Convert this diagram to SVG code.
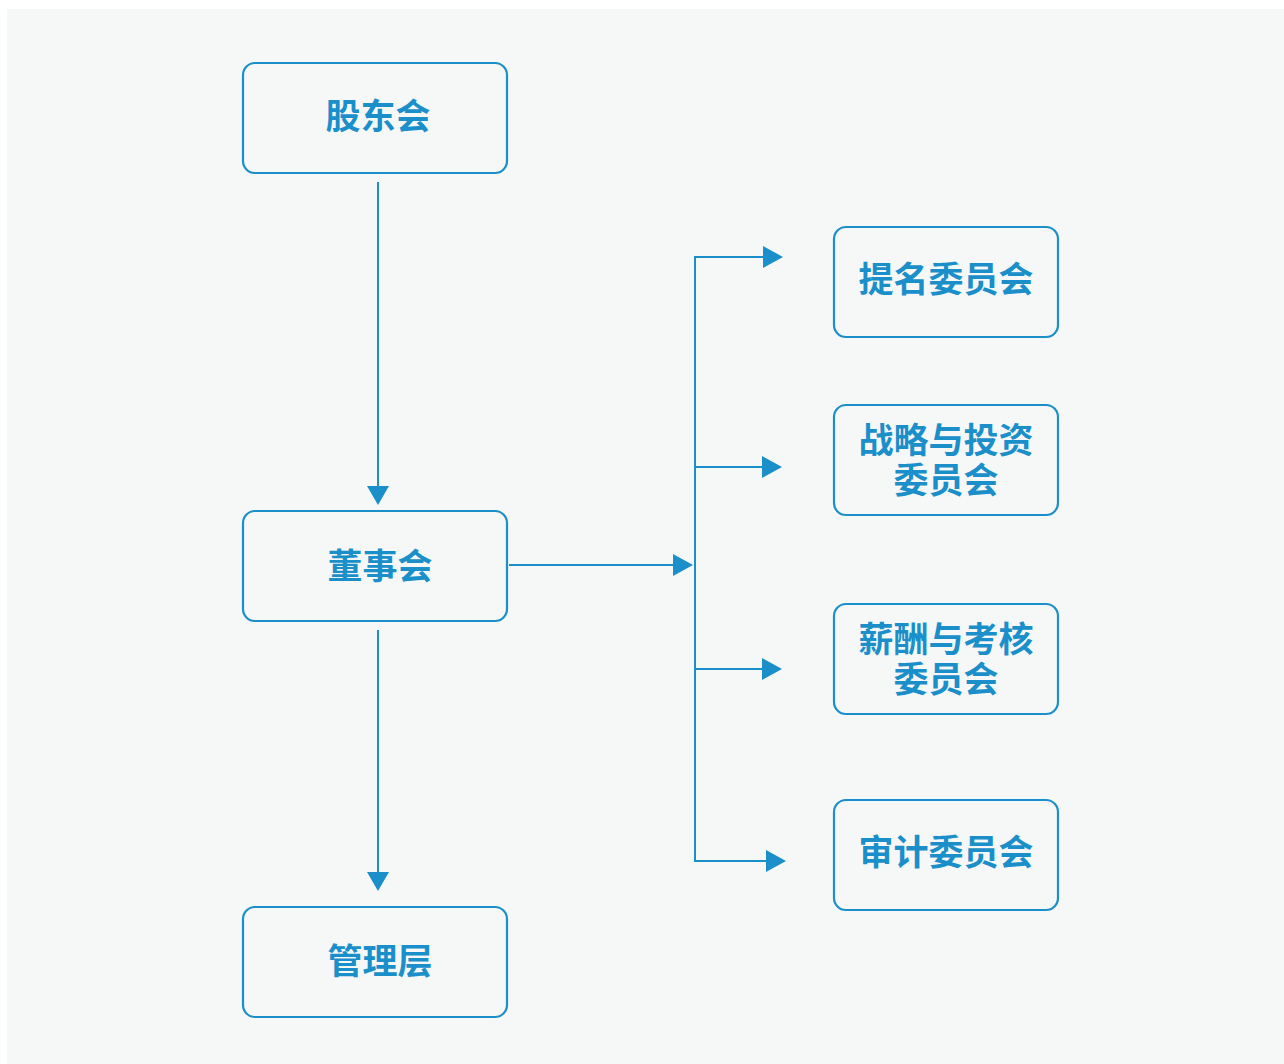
<svg xmlns="http://www.w3.org/2000/svg" width="1284" height="1064" viewBox="0 0 1284 1064">
<defs>
<style>
.box{fill:#f6f8f8;stroke:#1a8fc9;stroke-width:2.2}
.t{fill:#1a8fc9;font-family:"Noto Sans CJK SC","Noto Sans",sans-serif;font-weight:bold;font-size:35px;text-anchor:middle}
.c{fill:none;stroke:#1a8fc9;stroke-width:2}
.a{fill:#1a8fc9}
</style>
</defs>
<rect x="0" y="0" width="1284" height="1064" fill="#ffffff"/>
<rect x="7" y="9" width="1277" height="1055" fill="#f6f8f8"/>
<g id="connectors">
<line class="c" x1="378" y1="182" x2="378" y2="488"/>
<polygon class="a" points="367,486 389,486 378,505"/>
<line class="c" x1="378" y1="630" x2="378" y2="874"/>
<polygon class="a" points="367,872 389,872 378,891"/>
<line class="c" x1="509" y1="565" x2="676" y2="565"/>
<polygon class="a" points="673,554 673,576 693,565"/>
<polyline class="c" points="765,257 695,257 695,861 768,861"/>
<polygon class="a" points="763,246 763,268 783,257"/>
<line class="c" x1="695" y1="467" x2="765" y2="467"/>
<polygon class="a" points="762,456 762,478 782,467"/>
<line class="c" x1="695" y1="669" x2="765" y2="669"/>
<polygon class="a" points="762,658 762,680 782,669"/>
<polygon class="a" points="766,850 766,872 786,861"/>
</g>
<g id="gudonghui"><rect class="box" x="243" y="63" width="264" height="110" rx="12"/><text class="t" x="378" y="129">股东会</text></g>
<g id="dongshihui"><rect class="box" x="243" y="511" width="264" height="110" rx="12"/><text class="t" x="380" y="579">董事会</text></g>
<g id="guanliceng"><rect class="box" x="243" y="907" width="264" height="110" rx="12"/><text class="t" x="380" y="974">管理层</text></g>
<g id="timing"><rect class="box" x="834" y="227" width="224" height="110" rx="12"/><text class="t" x="946" y="292">提名委员会</text></g>
<g id="zhanlue"><rect class="box" x="834" y="405" width="224" height="110" rx="12"/><text class="t" x="946" y="453">战略与投资<tspan x="946" dy="40">委员会</tspan></text></g>
<g id="xinchou"><rect class="box" x="834" y="604" width="224" height="110" rx="12"/><text class="t" x="946" y="652">薪酬与考核<tspan x="946" dy="40">委员会</tspan></text></g>
<g id="shenji"><rect class="box" x="834" y="800" width="224" height="110" rx="12"/><text class="t" x="946" y="865">审计委员会</text></g>
</svg>
